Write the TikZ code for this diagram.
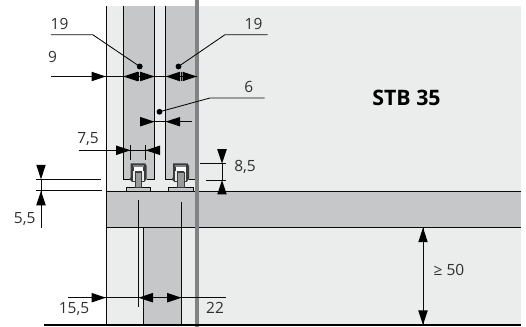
\documentclass[tikz,border=0pt]{standalone}
\usepackage{fontspec}
\setmainfont{Open Sans}
\definecolor{bglight}{HTML}{EBEDED}
\definecolor{midgray}{HTML}{C6C7C9}
\definecolor{bargray}{HTML}{808284}
\definecolor{ink}{HTML}{0A0A0A}
\tikzset{
  dimline/.style={draw=ink,line width=0.65pt},
  edge/.style={draw=ink,line width=0.68pt},
  lbl/.style={font=\fontsize{11.6pt}{13pt}\selectfont,text=ink!85,inner sep=0pt},
  dot/.style={circle,fill=black,inner sep=0pt,minimum size=4.4pt},
  pt/.style={inner sep=0pt,minimum size=0pt}
}
\newcommand{\arrowR}[2]{\fill[black] (#1,#2) -- ++(-14.5,-4.8) -- ++(0,9.6) -- cycle;}
\newcommand{\arrowL}[2]{\fill[black] (#1,#2) -- ++(14.5,-4.8) -- ++(0,9.6) -- cycle;}
\newcommand{\arrowD}[2]{\fill[black] (#1,#2) -- ++(-4.8,-14.5) -- ++(9.6,0) -- cycle;}
\newcommand{\arrowU}[2]{\fill[black] (#1,#2) -- ++(-4.8,14.5) -- ++(9.6,0) -- cycle;}
\newcommand{\roller}[1]{%
  \begin{scope}[shift={(#1,0)}]
    \filldraw[fill=midgray,draw=ink,line width=0.6pt] (-12.3,187.4) rectangle (12.3,191);
    \fill[ink!80] (-7.6,163.5) -- (7,163.5) -- (8.4,166) -- (8.4,179) -- (6,182) -- (-6,182) -- (-8.8,179.5) -- (-7.6,177) -- cycle;
    \fill[bargray] (-5.6,165) rectangle (5.2,167.2);
    \fill[white] (-4.3,167.2) rectangle (5,171);
    \fill[bglight] (-5.4,171) rectangle (-3.4,181);
    \fill[bglight] (3.4,171) rectangle (5.4,181);
    \filldraw[fill=bargray!65!midgray,draw=ink!80,line width=0.4pt] (-3.4,172) rectangle (3.4,187.4);
  \end{scope}}
\begin{document}
\begin{tikzpicture}[x=0.75pt,y=-0.75pt]
\useasboundingbox (0,0) rectangle (526,327);
% fields
\fill[bglight] (106,6) rectangle (521,325);
\fill[midgray] (123.3,6) rectangle (154.6,179.5);
\fill[midgray] (165.6,6) rectangle (196.5,179.5);
\fill[midgray] (106,191) rectangle (521,227.3);
\fill[midgray] (143.3,227.3) rectangle (181.6,325);
% outlines
\draw[edge] (106,6) -- (106,325);
\draw[edge] (123.3,6) -- (123.3,179.5) -- (130,179.5);
\draw[edge] (154.6,6) -- (154.6,179.5) -- (147,179.5);
\draw[edge] (165.6,6) -- (165.6,179.5) -- (172,179.5);
\draw[edge] (196.5,179.5) -- (189,179.5);
\draw[edge] (106,191) -- (521,191);
\draw[edge] (106,227.3) -- (521,227.3);
\draw[edge] (143.3,227.3) -- (143.3,325);
\draw[edge] (181.6,227.3) -- (181.6,325);
\roller{138.3}
\roller{180.6}
% thick bar
\fill[bargray] (195,0) rectangle (198.6,327);
% baseline
\draw[black,line width=1.2pt] (44,325) -- (521,325);
% dimension 9 / 19 / 19
\node[pt] (a9) at (51,76.5) {};
\node[pt] (b9) at (197,76.5) {};
\draw[dimline] (a9) -- (b9);
\arrowR{106}{76.5}
\arrowL{123.3}{76.5}
\arrowR{154.6}{76.5}
\arrowL{165.6}{76.5}
\arrowR{197}{76.5}
\draw[dimline] (138.7,72) -- (138.7,81);
\draw[dimline] (181.5,72) -- (181.5,81);
\node[lbl] (t9) at (52.5,57) {9};
% leaders
\node[dot] (d1) at (139.7,66.5) {};
\node[dot] (d2) at (178.5,66.5) {};
\node[dot] (d3) at (159.5,111.8) {};
\node[pt] (l1) at (50.5,34.7) {};
\node[pt] (l2) at (268,34.7) {};
\node[pt] (l3) at (265,98) {};
\draw[dimline] (l1) -- (92.7,34.7) -- (d1.center);
\draw[dimline] (l2) -- (225,34.7) -- (d2.center);
\draw[dimline] (l3) -- (210,98) -- (d3.center);
\node[lbl] (t19a) at (59.5,24) {19};
\node[lbl] (t19b) at (253.5,24) {19};
\node[lbl] (t6) at (248.7,87) {6};
% dimension 6
\node[pt] (a6) at (141,121.7) {};
\node[pt] (b6) at (192,121.7) {};
\draw[dimline] (a6) -- (b6);
\arrowR{154.6}{121.7}
\arrowL{165.6}{121.7}
% dimension 7,5
\node[pt] (a75) at (79,150.3) {};
\node[pt] (b75) at (160,150.3) {};
\draw[dimline] (a75) -- (b75);
\arrowR{130.6}{150.3}
\arrowL{145.6}{150.3}
\draw[dimline] (130.6,145.5) -- (130.6,160);
\draw[dimline] (145.4,145.5) -- (145.4,160);
\node[lbl] (t75) at (88,138.5) {7,5};
% dimension 8,5
\node[pt] (a85) at (200,163.7) {};
\node[pt] (b85) at (226.7,163.7) {};
\node[pt] (c85) at (206,180) {};
\node[pt] (d85) at (226.7,180) {};
\draw[dimline] (a85) -- (b85);
\draw[dimline] (c85) -- (d85);
\draw[dimline] (222,163.7) -- (222,180);
\arrowD{222}{163.7}
\arrowU{222}{180}
\node[lbl] (t85) at (245,166.5) {8,5};
% dimension 5,5
\node[pt] (a55) at (36,179.3) {};
\node[pt] (b55) at (101.7,179.3) {};
\node[pt] (c55) at (36,190.8) {};
\node[pt] (d55) at (102,190.8) {};
\node[pt] (e55) at (41,228.7) {};
\draw[dimline] (a55) -- (b55);
\draw[dimline] (c55) -- (d55);
\draw[dimline] (41,179.3) -- (e55);
\arrowD{41}{179.3}
\arrowU{41}{190.8}
\node[lbl] (t55) at (24.7,218.7) {5,5};
% dimension 15,5 / 22
\node[pt] (a15) at (68,297.7) {};
\node[pt] (b15) at (226.7,297.7) {};
\draw[dimline] (a15) -- (b15);
\arrowR{106}{297.7}
\arrowL{138.5}{297.7}
\arrowR{181.6}{297.7}
\draw[edge] (138.2,200) -- (138.2,306.7);
\draw[edge] (181,201.7) -- (181,305);
\node[lbl] (t15) at (74,308.7) {15,5};
\node[lbl] (t22) at (215,307.7) {22};
% dimension >= 50
\node[pt] (a50) at (423,227.7) {};
\node[pt] (b50) at (423,325) {};
\draw[dimline] (a50) -- (b50);
\arrowU{423}{227.7}
\arrowD{423}{325}
\node[lbl] (t50) at (449,270) {≥ 50};
\node[lbl,font=\fontsize{16pt}{18pt}\selectfont\bfseries,text=black] (tstb) at (406.5,97.5) {STB 35};
\end{tikzpicture}
\end{document}
